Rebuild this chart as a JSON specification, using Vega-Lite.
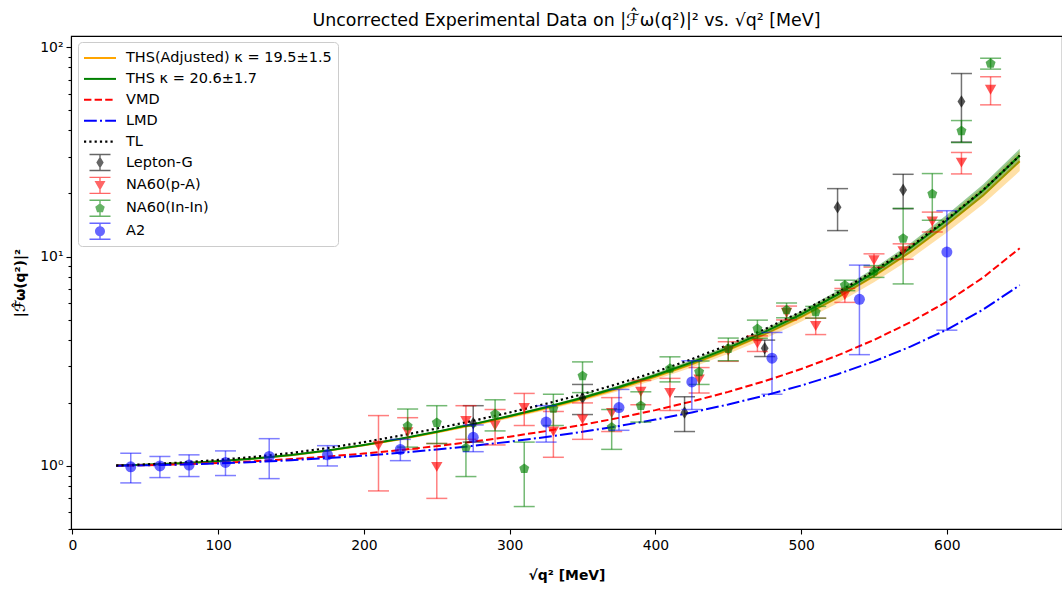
{
  "$schema": "https://vega.github.io/schema/vega-lite/v6.json",
  "width": 991,
  "height": 493,
  "autosize": {"type": "none"},
  "padding": {"left": 71, "top": 36, "right": 0, "bottom": 63},
  "background": "white",
  "title": {"text": "Uncorrected Experimental Data on |ℱ̂ω(q²)|² vs. √q² [MeV]", "fontSize": 17.4, "fontWeight": "normal", "font": "DejaVu Sans", "color": "black", "offset": 7},
  "config": {
    "font": "DejaVu Sans",
    "view": {"stroke": "black", "strokeWidth": 1.1},
    "axis": {"grid": false, "domainColor": "black", "domainWidth": 1.1, "tickColor": "black", "tickWidth": 1.1, "labelColor": "black", "titleColor": "black", "labelFontSize": 13.9, "titleFontSize": 13.9, "labelFont": "DejaVu Sans", "titleFont": "DejaVu Sans", "titleFontWeight": "bold"}
  },
  "datasets": {
    "curves": [
      {"x": 30, "adj": 1.0046, "adj_lo": 1.0044, "adj_hi": 1.0048, "ths": 1.0047, "ths_lo": 1.0046, "ths_hi": 1.0048, "vmd": 1.0030, "lmd": 1.0025, "tl": 1.0047},
      {"x": 50, "adj": 1.0130, "adj_lo": 1.0125, "adj_hi": 1.0134, "ths": 1.0132, "ths_lo": 1.0129, "ths_hi": 1.0135, "vmd": 1.0083, "lmd": 1.0069, "tl": 1.0171},
      {"x": 75, "adj": 1.0295, "adj_lo": 1.0285, "adj_hi": 1.0304, "ths": 1.0300, "ths_lo": 1.0293, "ths_hi": 1.0307, "vmd": 1.0189, "lmd": 1.0156, "tl": 1.0390},
      {"x": 100, "adj": 1.0531, "adj_lo": 1.0513, "adj_hi": 1.0549, "ths": 1.0541, "ths_lo": 1.0529, "ths_hi": 1.0553, "vmd": 1.0339, "lmd": 1.0281, "tl": 1.0685},
      {"x": 125, "adj": 1.0844, "adj_lo": 1.0815, "adj_hi": 1.0873, "ths": 1.0860, "ths_lo": 1.0840, "ths_hi": 1.0880, "vmd": 1.0537, "lmd": 1.0444, "tl": 1.1061},
      {"x": 150, "adj": 1.1246, "adj_lo": 1.1203, "adj_hi": 1.1289, "ths": 1.1270, "ths_lo": 1.1240, "ths_hi": 1.1300, "vmd": 1.0787, "lmd": 1.0649, "tl": 1.1523},
      {"x": 175, "adj": 1.1824, "adj_lo": 1.1759, "adj_hi": 1.1888, "ths": 1.1860, "ths_lo": 1.1816, "ths_hi": 1.1905, "vmd": 1.1094, "lmd": 1.0900, "tl": 1.2176},
      {"x": 200, "adj": 1.2555, "adj_lo": 1.2462, "adj_hi": 1.2648, "ths": 1.2607, "ths_lo": 1.2543, "ths_hi": 1.2671, "vmd": 1.1465, "lmd": 1.1201, "tl": 1.2988},
      {"x": 225, "adj": 1.3427, "adj_lo": 1.3299, "adj_hi": 1.3557, "ths": 1.3500, "ths_lo": 1.3411, "ths_hi": 1.3589, "vmd": 1.1909, "lmd": 1.1559, "tl": 1.3949},
      {"x": 250, "adj": 1.4480, "adj_lo": 1.4307, "adj_hi": 1.4656, "ths": 1.4579, "ths_lo": 1.4459, "ths_hi": 1.4700, "vmd": 1.2436, "lmd": 1.1982, "tl": 1.5101},
      {"x": 275, "adj": 1.5707, "adj_lo": 1.5478, "adj_hi": 1.5940, "ths": 1.5838, "ths_lo": 1.5679, "ths_hi": 1.5999, "vmd": 1.3059, "lmd": 1.2477, "tl": 1.6444},
      {"x": 300, "adj": 1.7167, "adj_lo": 1.6868, "adj_hi": 1.7472, "ths": 1.7338, "ths_lo": 1.7130, "ths_hi": 1.7549, "vmd": 1.3798, "lmd": 1.3060, "tl": 1.8005},
      {"x": 325, "adj": 1.8838, "adj_lo": 1.8453, "adj_hi": 1.9231, "ths": 1.9058, "ths_lo": 1.8790, "ths_hi": 1.9330, "vmd": 1.4675, "lmd": 1.3745, "tl": 1.9815},
      {"x": 350, "adj": 2.0895, "adj_lo": 2.0399, "adj_hi": 2.1403, "ths": 2.1179, "ths_lo": 2.0832, "ths_hi": 2.1532, "vmd": 1.5718, "lmd": 1.4555, "tl": 2.2025},
      {"x": 375, "adj": 2.3448, "adj_lo": 2.2806, "adj_hi": 2.4108, "ths": 2.3817, "ths_lo": 2.3366, "ths_hi": 2.4276, "vmd": 1.6969, "lmd": 1.5509, "tl": 2.4749},
      {"x": 400, "adj": 2.6620, "adj_lo": 2.5785, "adj_hi": 2.7483, "ths": 2.7102, "ths_lo": 2.6514, "ths_hi": 2.7703, "vmd": 1.8478, "lmd": 1.6648, "tl": 2.8132},
      {"x": 425, "adj": 3.0606, "adj_lo": 2.9512, "adj_hi": 3.1742, "ths": 3.1240, "ths_lo": 3.0467, "ths_hi": 3.2033, "vmd": 2.0316, "lmd": 1.8012, "tl": 3.2370},
      {"x": 450, "adj": 3.5780, "adj_lo": 3.4325, "adj_hi": 3.7298, "ths": 3.6626, "ths_lo": 3.5595, "ths_hi": 3.7687, "vmd": 2.2583, "lmd": 1.9666, "tl": 3.7851},
      {"x": 475, "adj": 4.2509, "adj_lo": 4.0551, "adj_hi": 4.4562, "ths": 4.3652, "ths_lo": 4.2260, "ths_hi": 4.5090, "vmd": 2.5417, "lmd": 2.1689, "tl": 4.4992},
      {"x": 500, "adj": 5.1432, "adj_lo": 4.8765, "adj_hi": 5.4251, "ths": 5.2999, "ths_lo": 5.1090, "ths_hi": 5.4979, "vmd": 2.9025, "lmd": 2.4216, "tl": 5.4440},
      {"x": 525, "adj": 6.3588, "adj_lo": 5.9871, "adj_hi": 6.7539, "ths": 6.5781, "ths_lo": 6.3112, "ths_hi": 6.8564, "vmd": 3.3712, "lmd": 2.7417, "tl": 6.7310},
      {"x": 550, "adj": 8.0684, "adj_lo": 7.5379, "adj_hi": 8.6362, "ths": 8.3830, "ths_lo": 7.9999, "ths_hi": 8.7844, "vmd": 3.9962, "lmd": 3.1578, "tl": 8.5430},
      {"x": 575, "adj": 10.519, "adj_lo": 9.7429, "adj_hi": 11.357, "ths": 10.982, "ths_lo": 10.418, "ths_hi": 11.576, "vmd": 4.8566, "lmd": 3.7120, "tl": 11.143},
      {"x": 600, "adj": 14.205, "adj_lo": 13.028, "adj_hi": 15.488, "ths": 14.913, "ths_lo": 14.052, "ths_hi": 15.826, "vmd": 6.0894, "lmd": 4.4794, "tl": 15.066},
      {"x": 625, "adj": 19.607, "adj_lo": 17.797, "adj_hi": 21.604, "ths": 20.706, "ths_lo": 19.371, "ths_hi": 22.133, "vmd": 7.9505, "lmd": 5.5887, "tl": 20.806},
      {"x": 650, "adj": 28.534, "adj_lo": 25.597, "adj_hi": 31.825, "ths": 30.340, "ths_lo": 28.145, "ths_hi": 32.706, "vmd": 10.965, "lmd": 7.298, "tl": 30.34}
    ],
    "pts": [
      {"set": "Lepton-G", "x": 275, "y": 1.6, "lo": 1.3, "hi": 1.94},
      {"set": "Lepton-G", "x": 350, "y": 2.11, "lo": 1.76, "hi": 2.45},
      {"set": "Lepton-G", "x": 420, "y": 1.8, "lo": 1.46, "hi": 2.14},
      {"set": "Lepton-G", "x": 475, "y": 3.65, "lo": 3.33, "hi": 3.99},
      {"set": "Lepton-G", "x": 525, "y": 17.2, "lo": 13.3, "hi": 21.1},
      {"set": "Lepton-G", "x": 570, "y": 20.8, "lo": 16.9, "hi": 24.7},
      {"set": "Lepton-G", "x": 610, "y": 55, "lo": 35.2, "hi": 74.8},
      {"set": "NA60(p-A)", "x": 210, "y": 1.25, "lo": 0.76, "hi": 1.74},
      {"set": "NA60(p-A)", "x": 230, "y": 1.45, "lo": 1.2, "hi": 1.7},
      {"set": "NA60(p-A)", "x": 250, "y": 0.99, "lo": 0.7, "hi": 1.28},
      {"set": "NA60(p-A)", "x": 270, "y": 1.64, "lo": 1.34, "hi": 1.94},
      {"set": "NA60(p-A)", "x": 290, "y": 1.56, "lo": 1.26, "hi": 1.86},
      {"set": "NA60(p-A)", "x": 310, "y": 1.89, "lo": 1.56, "hi": 2.22},
      {"set": "NA60(p-A)", "x": 330, "y": 1.46, "lo": 1.1, "hi": 1.82},
      {"set": "NA60(p-A)", "x": 350, "y": 1.67, "lo": 1.34, "hi": 2.0},
      {"set": "NA60(p-A)", "x": 370, "y": 1.79, "lo": 1.46, "hi": 2.12},
      {"set": "NA60(p-A)", "x": 390, "y": 2.26, "lo": 1.96, "hi": 2.56},
      {"set": "NA60(p-A)", "x": 410, "y": 2.23, "lo": 1.84, "hi": 2.62},
      {"set": "NA60(p-A)", "x": 430, "y": 2.59, "lo": 2.23, "hi": 2.95},
      {"set": "NA60(p-A)", "x": 450, "y": 3.54, "lo": 3.16, "hi": 3.92},
      {"set": "NA60(p-A)", "x": 470, "y": 3.85, "lo": 3.52, "hi": 4.18},
      {"set": "NA60(p-A)", "x": 490, "y": 5.39, "lo": 4.98, "hi": 5.8},
      {"set": "NA60(p-A)", "x": 510, "y": 4.66, "lo": 4.24, "hi": 5.08},
      {"set": "NA60(p-A)", "x": 530, "y": 6.54, "lo": 6.04, "hi": 7.04},
      {"set": "NA60(p-A)", "x": 550, "y": 9.6, "lo": 8.9, "hi": 10.3},
      {"set": "NA60(p-A)", "x": 570, "y": 10.6, "lo": 9.7, "hi": 11.5},
      {"set": "NA60(p-A)", "x": 590, "y": 14.7, "lo": 13.1, "hi": 16.3},
      {"set": "NA60(p-A)", "x": 610, "y": 28.1, "lo": 24.8, "hi": 31.4},
      {"set": "NA60(p-A)", "x": 630, "y": 62.6, "lo": 53.0, "hi": 72.2},
      {"set": "NA60(In-In)", "x": 230, "y": 1.55, "lo": 1.23, "hi": 1.87},
      {"set": "NA60(In-In)", "x": 250, "y": 1.61, "lo": 1.28, "hi": 1.94},
      {"set": "NA60(In-In)", "x": 270, "y": 1.22, "lo": 0.89, "hi": 1.55},
      {"set": "NA60(In-In)", "x": 290, "y": 1.77, "lo": 1.47, "hi": 2.07},
      {"set": "NA60(In-In)", "x": 310, "y": 0.97, "lo": 0.64, "hi": 1.3},
      {"set": "NA60(In-In)", "x": 330, "y": 1.88, "lo": 1.56, "hi": 2.2},
      {"set": "NA60(In-In)", "x": 350, "y": 2.69, "lo": 2.24, "hi": 3.14},
      {"set": "NA60(In-In)", "x": 370, "y": 1.53, "lo": 1.2, "hi": 1.86},
      {"set": "NA60(In-In)", "x": 390, "y": 1.94, "lo": 1.62, "hi": 2.26},
      {"set": "NA60(In-In)", "x": 410, "y": 2.92, "lo": 2.52, "hi": 3.32},
      {"set": "NA60(In-In)", "x": 430, "y": 2.81, "lo": 2.45, "hi": 3.17},
      {"set": "NA60(In-In)", "x": 450, "y": 3.63, "lo": 3.18, "hi": 4.08},
      {"set": "NA60(In-In)", "x": 470, "y": 4.52, "lo": 4.07, "hi": 4.97},
      {"set": "NA60(In-In)", "x": 490, "y": 5.55, "lo": 5.1, "hi": 6.0},
      {"set": "NA60(In-In)", "x": 510, "y": 5.43, "lo": 5.08, "hi": 5.78},
      {"set": "NA60(In-In)", "x": 530, "y": 7.29, "lo": 6.87, "hi": 7.71},
      {"set": "NA60(In-In)", "x": 550, "y": 8.5, "lo": 7.95, "hi": 9.05},
      {"set": "NA60(In-In)", "x": 570, "y": 12.2, "lo": 7.4, "hi": 17.0},
      {"set": "NA60(In-In)", "x": 590, "y": 19.9, "lo": 14.9, "hi": 24.9},
      {"set": "NA60(In-In)", "x": 610, "y": 39.8, "lo": 35.0, "hi": 44.6},
      {"set": "NA60(In-In)", "x": 630, "y": 83.5, "lo": 78.5, "hi": 88.5},
      {"set": "A2", "x": 40, "y": 0.99, "lo": 0.83, "hi": 1.15},
      {"set": "A2", "x": 60, "y": 1.0, "lo": 0.88, "hi": 1.11},
      {"set": "A2", "x": 80, "y": 1.01, "lo": 0.89, "hi": 1.13},
      {"set": "A2", "x": 105, "y": 1.04, "lo": 0.9, "hi": 1.18},
      {"set": "A2", "x": 135, "y": 1.11, "lo": 0.87, "hi": 1.35},
      {"set": "A2", "x": 175, "y": 1.13, "lo": 1.0, "hi": 1.25},
      {"set": "A2", "x": 225, "y": 1.2, "lo": 1.06, "hi": 1.34},
      {"set": "A2", "x": 275, "y": 1.37, "lo": 1.17, "hi": 1.57},
      {"set": "A2", "x": 325, "y": 1.62, "lo": 1.3, "hi": 1.94},
      {"set": "A2", "x": 375, "y": 1.9, "lo": 1.48, "hi": 2.32},
      {"set": "A2", "x": 425, "y": 2.52, "lo": 1.86, "hi": 3.18},
      {"set": "A2", "x": 480, "y": 3.27, "lo": 2.2, "hi": 4.34},
      {"set": "A2", "x": 540, "y": 6.25, "lo": 3.4, "hi": 9.1},
      {"set": "A2", "x": 600, "y": 10.5, "lo": 4.45, "hi": 16.55}
    ],
    "legend": [
      {"series": "THS(Adjusted) κ = 19.5±1.5"},
      {"series": "THS κ = 20.6±1.7"},
      {"series": "VMD"},
      {"series": "LMD"},
      {"series": "TL"},
      {"series": "Lepton-G"},
      {"series": "NA60(p-A)"},
      {"series": "NA60(In-In)"},
      {"series": "A2"}
    ]
  },
  "encoding": {
    "x": {"field": "x", "type": "quantitative", "scale": {"domain": [-1, 679], "nice": false, "zero": false},
      "axis": {"values": [0, 100, 200, 300, 400, 500, 600], "title": "√q²  [MeV]", "tickSize": 5, "labelPadding": 4.5, "titlePadding": 16}}
  },
  "layer": [
    {"data": {"name": "curves"}, "mark": {"type": "area", "color": "#ffa500", "opacity": 0.35},
      "encoding": {"y": {"field": "adj_lo", "type": "quantitative",
        "scale": {"type": "log", "domain": [0.5, 113], "nice": false},
        "axis": {"title": "|ℱ̂ω(q²)|²", "values": [0.5, 0.6, 0.7, 0.8, 0.9, 1, 2, 3, 4, 5, 6, 7, 8, 9, 10, 20, 30, 40, 50, 60, 70, 80, 90, 100],
          "labelExpr": "datum.value == 1 ? '10⁰' : datum.value == 10 ? '10¹' : datum.value == 100 ? '10²' : ''",
          "labelOverlap": false, "labelPadding": 3, "titlePadding": 12,
          "tickSize": {"condition": {"test": "datum.value == 1 || datum.value == 10 || datum.value == 100", "value": 5}, "value": 3}}},
        "y2": {"field": "adj_hi"}}},
    {"data": {"name": "curves"}, "mark": {"type": "line", "color": "#ffa500", "strokeWidth": 2},
      "encoding": {"y": {"field": "adj", "type": "quantitative"}}},
    {"data": {"name": "curves"}, "mark": {"type": "area", "color": "#008000", "opacity": 0.4},
      "encoding": {"y": {"field": "ths_lo", "type": "quantitative"}, "y2": {"field": "ths_hi"}}},
    {"data": {"name": "curves"}, "mark": {"type": "line", "color": "#008000", "strokeWidth": 2},
      "encoding": {"y": {"field": "ths", "type": "quantitative"}}},
    {"data": {"name": "curves"}, "mark": {"type": "line", "color": "#ff0000", "strokeWidth": 2, "strokeDash": [7.4, 3.2]},
      "encoding": {"y": {"field": "vmd", "type": "quantitative"}}},
    {"data": {"name": "curves"}, "mark": {"type": "line", "color": "#0000ff", "strokeWidth": 2, "strokeDash": [12.8, 3.2, 2, 3.2]},
      "encoding": {"y": {"field": "lmd", "type": "quantitative"}}},
    {"data": {"name": "curves"}, "mark": {"type": "line", "color": "#000000", "strokeWidth": 2.2, "strokeDash": [2.2, 3.1]},
      "encoding": {"y": {"field": "tl", "type": "quantitative"}}},
    {"data": {"name": "pts"}, "transform": [{"filter": {"field": "set", "equal": "Lepton-G"}}],
      "layer": [
        {"mark": {"type": "rule", "color": "#000000", "opacity": 0.55, "strokeWidth": 1.5}, "encoding": {"y": {"field": "lo", "type": "quantitative"}, "y2": {"field": "hi"}}},
        {"mark": {"type": "tick", "orient": "horizontal", "color": "#000000", "opacity": 0.55, "thickness": 1.5, "size": 21}, "encoding": {"y": {"field": "lo", "type": "quantitative"}}},
        {"mark": {"type": "tick", "orient": "horizontal", "color": "#000000", "opacity": 0.55, "thickness": 1.5, "size": 21}, "encoding": {"y": {"field": "hi", "type": "quantitative"}}},
        {"mark": {"type": "point", "shape": "M0,-1L0.62,0L0,1L-0.62,0Z", "filled": true, "color": "#000000", "opacity": 0.65, "size": 160, "strokeWidth": 0}, "encoding": {"y": {"field": "y", "type": "quantitative"}}}
      ]},
    {"data": {"name": "pts"}, "transform": [{"filter": {"field": "set", "equal": "NA60(p-A)"}}],
      "layer": [
        {"mark": {"type": "rule", "color": "#ff0000", "opacity": 0.5, "strokeWidth": 1.5}, "encoding": {"y": {"field": "lo", "type": "quantitative"}, "y2": {"field": "hi"}}},
        {"mark": {"type": "tick", "orient": "horizontal", "color": "#ff0000", "opacity": 0.5, "thickness": 1.5, "size": 21}, "encoding": {"y": {"field": "lo", "type": "quantitative"}}},
        {"mark": {"type": "tick", "orient": "horizontal", "color": "#ff0000", "opacity": 0.5, "thickness": 1.5, "size": 21}, "encoding": {"y": {"field": "hi", "type": "quantitative"}}},
        {"mark": {"type": "point", "shape": "triangle-down", "filled": true, "color": "#ff0000", "opacity": 0.65, "size": 130, "strokeWidth": 0}, "encoding": {"y": {"field": "y", "type": "quantitative"}}}
      ]},
    {"data": {"name": "pts"}, "transform": [{"filter": {"field": "set", "equal": "NA60(In-In)"}}],
      "layer": [
        {"mark": {"type": "rule", "color": "#008000", "opacity": 0.55, "strokeWidth": 1.5}, "encoding": {"y": {"field": "lo", "type": "quantitative"}, "y2": {"field": "hi"}}},
        {"mark": {"type": "tick", "orient": "horizontal", "color": "#008000", "opacity": 0.55, "thickness": 1.5, "size": 21}, "encoding": {"y": {"field": "lo", "type": "quantitative"}}},
        {"mark": {"type": "tick", "orient": "horizontal", "color": "#008000", "opacity": 0.55, "thickness": 1.5, "size": 21}, "encoding": {"y": {"field": "hi", "type": "quantitative"}}},
        {"mark": {"type": "point", "shape": "M0,-1L0.951,-0.309L0.588,0.809L-0.588,0.809L-0.951,-0.309Z", "filled": true, "color": "#008000", "opacity": 0.65, "size": 110, "strokeWidth": 0}, "encoding": {"y": {"field": "y", "type": "quantitative"}}}
      ]},
    {"data": {"name": "pts"}, "transform": [{"filter": {"field": "set", "equal": "A2"}}],
      "layer": [
        {"mark": {"type": "rule", "color": "#0000ff", "opacity": 0.5, "strokeWidth": 1.5}, "encoding": {"y": {"field": "lo", "type": "quantitative"}, "y2": {"field": "hi"}}},
        {"mark": {"type": "tick", "orient": "horizontal", "color": "#0000ff", "opacity": 0.5, "thickness": 1.5, "size": 21}, "encoding": {"y": {"field": "lo", "type": "quantitative"}}},
        {"mark": {"type": "tick", "orient": "horizontal", "color": "#0000ff", "opacity": 0.5, "thickness": 1.5, "size": 21}, "encoding": {"y": {"field": "hi", "type": "quantitative"}}},
        {"mark": {"type": "point", "shape": "circle", "filled": true, "color": "#0000ff", "opacity": 0.6, "size": 121, "strokeWidth": 0}, "encoding": {"y": {"field": "y", "type": "quantitative"}}}
      ]},
    {"data": {"name": "legend"}, "mark": {"type": "point", "filled": true, "size": 0, "opacity": 0},
      "encoding": {
        "color": {"field": "series", "type": "nominal",
          "scale": {"domain": ["THS(Adjusted) κ = 19.5±1.5", "THS κ = 20.6±1.7", "VMD", "LMD", "TL", "Lepton-G", "NA60(p-A)", "NA60(In-In)", "A2"],
            "range": ["#ffa500", "#008000", "#ff0000", "#0000ff", "#000000", "#000000", "#ff0000", "#008000", "#0000ff"]},
          "legend": {"title": null, "orient": "none", "legendX": 7, "legendY": 6, "symbolSize": 400, "symbolOpacity": 1, "symbolStrokeWidth": 0,
            "labelFontSize": 14.5, "labelFont": "DejaVu Sans", "labelColor": "black", "labelLimit": 320, "labelOffset": 16, "symbolOffset": 6,
            "padding": 6, "rowPadding": 3.9, "fillColor": "rgba(255,255,255,0.8)", "strokeColor": "#cccccc", "cornerRadius": 4,
            "encode": {"symbols": {"update": {"fill": {"scale": "color", "field": "value"}, "stroke": {"value": "transparent"},
              "opacity": {"signal": "indexof(['Lepton-G','NA60(p-A)','NA60(In-In)','A2'], datum.value) >= 0 ? 0.6 : 1"}}}}}},
        "shape": {"field": "series", "type": "nominal",
          "scale": {"domain": ["THS(Adjusted) κ = 19.5±1.5", "THS κ = 20.6±1.7", "VMD", "LMD", "TL", "Lepton-G", "NA60(p-A)", "NA60(In-In)", "A2"],
            "range": [
              "M-1.6,-0.1H1.6V0.1H-1.6Z",
              "M-1.6,-0.1H1.6V0.1H-1.6Z",
              "M-1.6,-0.1H-0.86V0.1H-1.6Z M-0.54,-0.1H0.2V0.1H-0.54Z M0.52,-0.1H1.26V0.1H0.52Z",
              "M-1.6,-0.1H-0.32V0.1H-1.6Z M0,-0.1H0.2V0.1H0Z M0.52,-0.1H1.6V0.1H0.52Z",
              "M-1.6,-0.11H-1.38V0.11H-1.6Z M-1.07,-0.11H-0.85V0.11H-1.07Z M-0.54,-0.11H-0.32V0.11H-0.54Z M-0.01,-0.11H0.21V0.11H-0.01Z M0.52,-0.11H0.74V0.11H0.52Z M1.05,-0.11H1.27V0.11H1.05Z",
              "M-0.07,-0.8H0.07V0.8H-0.07Z M-1.05,-0.87H1.05V-0.73H-1.05Z M-1.05,0.73H1.05V0.87H-1.05Z M0,-0.6L0.37,0L0,0.6L-0.37,0Z",
              "M-0.07,-0.8H0.07V0.8H-0.07Z M-1.05,-0.87H1.05V-0.73H-1.05Z M-1.05,0.73H1.05V0.87H-1.05Z M-0.55,-0.45L0.55,-0.45L0,0.5Z",
              "M-0.07,-0.8H0.07V0.8H-0.07Z M-1.05,-0.87H1.05V-0.73H-1.05Z M-1.05,0.73H1.05V0.87H-1.05Z M0,-0.5L0.476,-0.155L0.294,0.405L-0.294,0.405L-0.476,-0.155Z",
              "M-0.07,-0.8H0.07V0.8H-0.07Z M-1.05,-0.87H1.05V-0.73H-1.05Z M-1.05,0.73H1.05V0.87H-1.05Z M-0.5,0A0.5,0.5 0 1,1 0.5,0A0.5,0.5 0 1,1 -0.5,0Z"
            ]},
          "legend": {"title": null, "orient": "none", "legendX": 7, "legendY": 6, "symbolSize": 400, "symbolOpacity": 1, "symbolStrokeWidth": 0,
            "labelFontSize": 14.5, "labelFont": "DejaVu Sans", "labelColor": "black", "labelLimit": 320, "labelOffset": 16, "symbolOffset": 6,
            "padding": 6, "rowPadding": 3.9, "fillColor": "rgba(255,255,255,0.8)", "strokeColor": "#cccccc", "cornerRadius": 4}}
      }}
  ]
}
